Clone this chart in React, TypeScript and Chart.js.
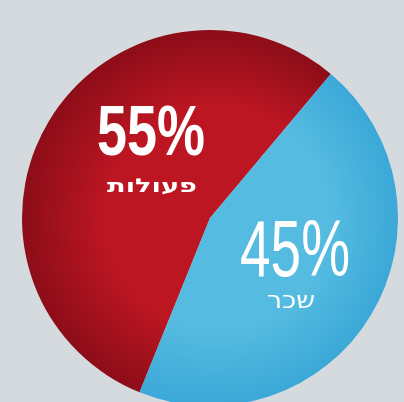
import React, { useEffect, useRef } from 'react';
import { Chart, registerables } from 'chart.js';

Chart.register(...registerables);

const categories = ['פעולות', 'שכר'];
const values = [55, 45];
const percentLabels = ['55%', '45%'];

const innerColors = ['#bc1622', '#55bbe0'];
const outerColors = ['#8c0d18', '#3ba8d8'];

function drawFit(ctx: CanvasRenderingContext2D, text: string, cx: number, baseY: number, font: string, targetW: number, rtl = false) {
  ctx.save();
  ctx.font = font;
  ctx.direction = rtl ? 'rtl' : 'ltr';
  ctx.textAlign = 'center';
  ctx.textBaseline = 'alphabetic';
  const w = ctx.measureText(text).width;
  const sx = targetW / w;
  ctx.translate(cx, baseY);
  ctx.scale(sx, 1);
  ctx.fillStyle = '#ffffff';
  ctx.fillText(text, 0, 0);
  ctx.restore();
}

const labelPlugin = {
  id: 'pieLabels',
  afterDatasetsDraw(chart: any) {
    const ctx = chart.ctx as CanvasRenderingContext2D;
    const ca = chart.chartArea;
    const cx = (ca.left + ca.right) / 2;
    const cy = (ca.top + ca.bottom) / 2;
    drawFit(ctx, percentLabels[0], cx - 59, cy - 63, 'bold 71px "Liberation Sans", sans-serif', 108);
    drawFit(ctx, categories[0], cx - 58, cy - 26, 'bold 19px "DejaVu Sans", sans-serif', 90, true);
    drawFit(ctx, percentLabels[1], cx + 85, cy + 58, '500 80px "Liberation Sans", sans-serif', 110);
    drawFit(ctx, categories[1], cx + 81, cy + 90, '23px "DejaVu Sans", sans-serif', 48, true);
  },
};

export default function App() {
  const ref = useRef<HTMLCanvasElement | null>(null);

  useEffect(() => {
    document.body.style.margin = '0';
    const canvas = ref.current;
    if (!canvas) return;
    const chart = new Chart(canvas, {
      type: 'pie',
      data: {
        labels: categories,
        datasets: [
          {
            data: values,
            borderWidth: 0,
            backgroundColor: (c: any) => {
              const i = c.dataIndex;
              const ch = c.chart;
              const ca = ch.chartArea;
              if (!ca) return innerColors[i];
              const cx = (ca.left + ca.right) / 2;
              const cy = (ca.top + ca.bottom) / 2;
              const r = Math.min(ca.right - ca.left, ca.bottom - ca.top) / 2;
              const g = ch.ctx.createRadialGradient(cx + 20, cy, 0, cx, cy, r);
              g.addColorStop(0, innerColors[i]);
              g.addColorStop(0.6, innerColors[i]);
              g.addColorStop(1, outerColors[i]);
              return g;
            },
          },
        ],
      },
      options: {
        animation: false,
        responsive: false,
        devicePixelRatio: 1,
        rotation: 202,
        layout: { padding: { left: 22, right: 6, top: 30, bottom: 24 } },
        plugins: {
          legend: { display: false },
          tooltip: { enabled: false },
        },
      },
      plugins: [labelPlugin],
    });
    return () => chart.destroy();
  }, []);

  return (
    <div
      style={{
        position: 'fixed',
        left: 0,
        top: 0,
        width: 404,
        height: 402,
        overflow: 'hidden',
        background: '#d5dadf',
      }}
    >
      <canvas ref={ref} width={404} height={430} style={{ display: 'block' }} />
    </div>
  );
}
